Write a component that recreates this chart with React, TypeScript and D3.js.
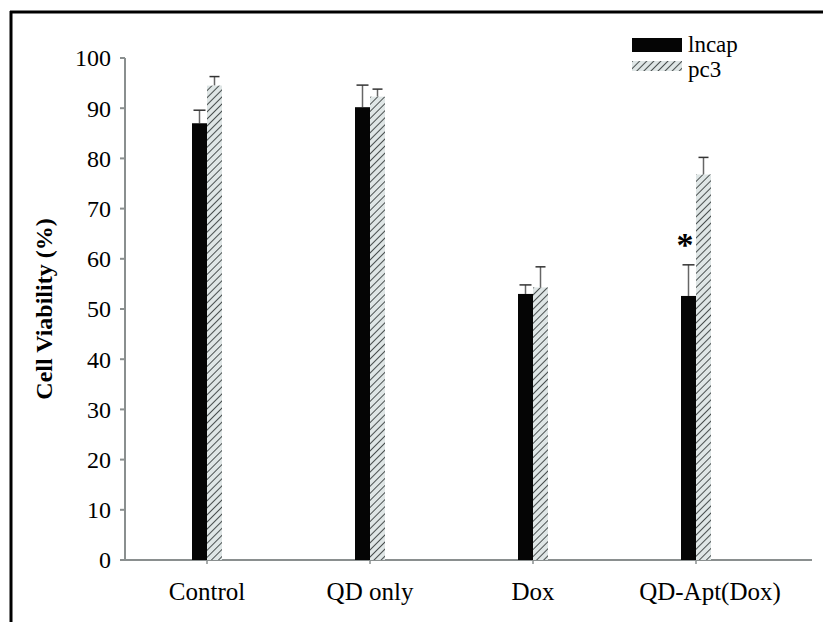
import React from "react";
import * as d3 from "d3";

const categories = ["Control", "QD only", "Dox", "QD-Apt(Dox)"];
const lncapValues = [87, 90.2, 53, 52.6];
const lncapErrors = [2.6, 4.4, 1.8, 6.2];
const pc3Values = [94.5, 92.3, 54.3, 76.8];
const pc3Errors = [1.8, 1.5, 4.1, 3.4];
const yTicks = [0, 10, 20, 30, 40, 50, 60, 70, 80, 90, 100];
const seriesNames = ["lncap", "pc3"];

export default function App() {
  const W = 830, H = 622;
  const y = d3.scaleLinear().domain([0, 100]).range([560, 58]);
  const x = d3.scalePoint<string>().domain(categories).range([207, 696]);
  const bw = 15;
  const font = "Liberation Serif, DejaVu Serif, serif";
  const axisCol = "#8a8f8f";
  const ts = { fontFamily: font };

  return (
    <svg width={W} height={H} style={{ position: "absolute", left: 0, top: 0, background: "#fff" }}>
      <defs>
        <pattern id="hatch" width="5" height="5" patternUnits="userSpaceOnUse" patternTransform="rotate(45)">
          <rect width="5" height="5" fill="#dfe6e6" />
          <line x1="0" y1="0" x2="0" y2="5" stroke="#4a5050" strokeWidth="2" />
        </pattern>
      </defs>
      {/* frame */}
      <line x1={10} y1={12} x2={823} y2={12} stroke="#000" strokeWidth={3} />
      <line x1={11} y1={11} x2={11} y2={622} stroke="#000" strokeWidth={3} />

      {/* y axis */}
      <line x1={125} y1={y(100)} x2={125} y2={y(0)} stroke={axisCol} strokeWidth={2} />
      {yTicks.map((t) => (
        <g key={t}>
          <line x1={120} x2={125} y1={y(t)} y2={y(t)} stroke={axisCol} strokeWidth={2} />
          <text x={111} y={y(t)} dy="0.35em" textAnchor="end" style={ts} fontSize={24}>
            {t}
          </text>
        </g>
      ))}
      {/* x axis */}
      <line x1={120} y1={y(0)} x2={812} y2={y(0)} stroke={axisCol} strokeWidth={2} />
      {categories.map((c, i) => (
        <g key={c}>
          <line x1={x(c)!} x2={x(c)!} y1={y(0)} y2={y(0) + 4} stroke={axisCol} strokeWidth={1.5} />
          <text x={x(c)! + (i === 3 ? 14 : 0)} y={600} textAnchor="middle" style={ts} fontSize={25}>
            {c}
          </text>
        </g>
      ))}

      {/* bars */}
      {categories.map((c, i) => {
        const cx = x(c)!;
        const lx = cx - bw;
        const px = cx;
        return (
          <g key={c}>
            <line x1={lx + bw / 2} x2={lx + bw / 2} y1={y(lncapValues[i])} y2={y(lncapValues[i] + lncapErrors[i])} stroke="#666" strokeWidth={1.5} />
            <line x1={lx + bw / 2 - 6} x2={lx + bw / 2 + 6} y1={y(lncapValues[i] + lncapErrors[i])} y2={y(lncapValues[i] + lncapErrors[i])} stroke="#333" strokeWidth={1.5} />
            <line x1={px + bw / 2} x2={px + bw / 2} y1={y(pc3Values[i])} y2={y(pc3Values[i] + pc3Errors[i])} stroke="#666" strokeWidth={1.5} />
            <line x1={px + bw / 2 - 5} x2={px + bw / 2 + 5} y1={y(pc3Values[i] + pc3Errors[i])} y2={y(pc3Values[i] + pc3Errors[i])} stroke="#333" strokeWidth={1.5} />
            <rect x={lx} y={y(lncapValues[i])} width={bw} height={y(0) - y(lncapValues[i])} fill="#050505" />
            <rect x={px} y={y(pc3Values[i])} width={bw} height={y(0) - y(pc3Values[i])} fill="url(#hatch)" />
          </g>
        );
      })}

      {/* significance star */}
      <text x={x("QD-Apt(Dox)")! - 11} y={256} textAnchor="middle" style={ts} fontSize={34} fontWeight="bold">
        *
      </text>

      {/* y axis title */}
      <text
        transform={`translate(52, ${y(50)}) rotate(-90)`}
        textAnchor="middle"
        style={ts}
        fontSize={24}
        fontWeight="bold"
      >
        Cell Viability (%)
      </text>

      {/* legend */}
      <rect x={632} y={38} width={50} height={14} fill="#050505" />
      <text x={688} y={52} style={ts} fontSize={23}>{seriesNames[0]}</text>
      <rect x={632} y={61} width={50} height={10} fill="url(#hatch)" />
      <text x={688} y={77} style={ts} fontSize={23}>{seriesNames[1]}</text>
    </svg>
  );
}
